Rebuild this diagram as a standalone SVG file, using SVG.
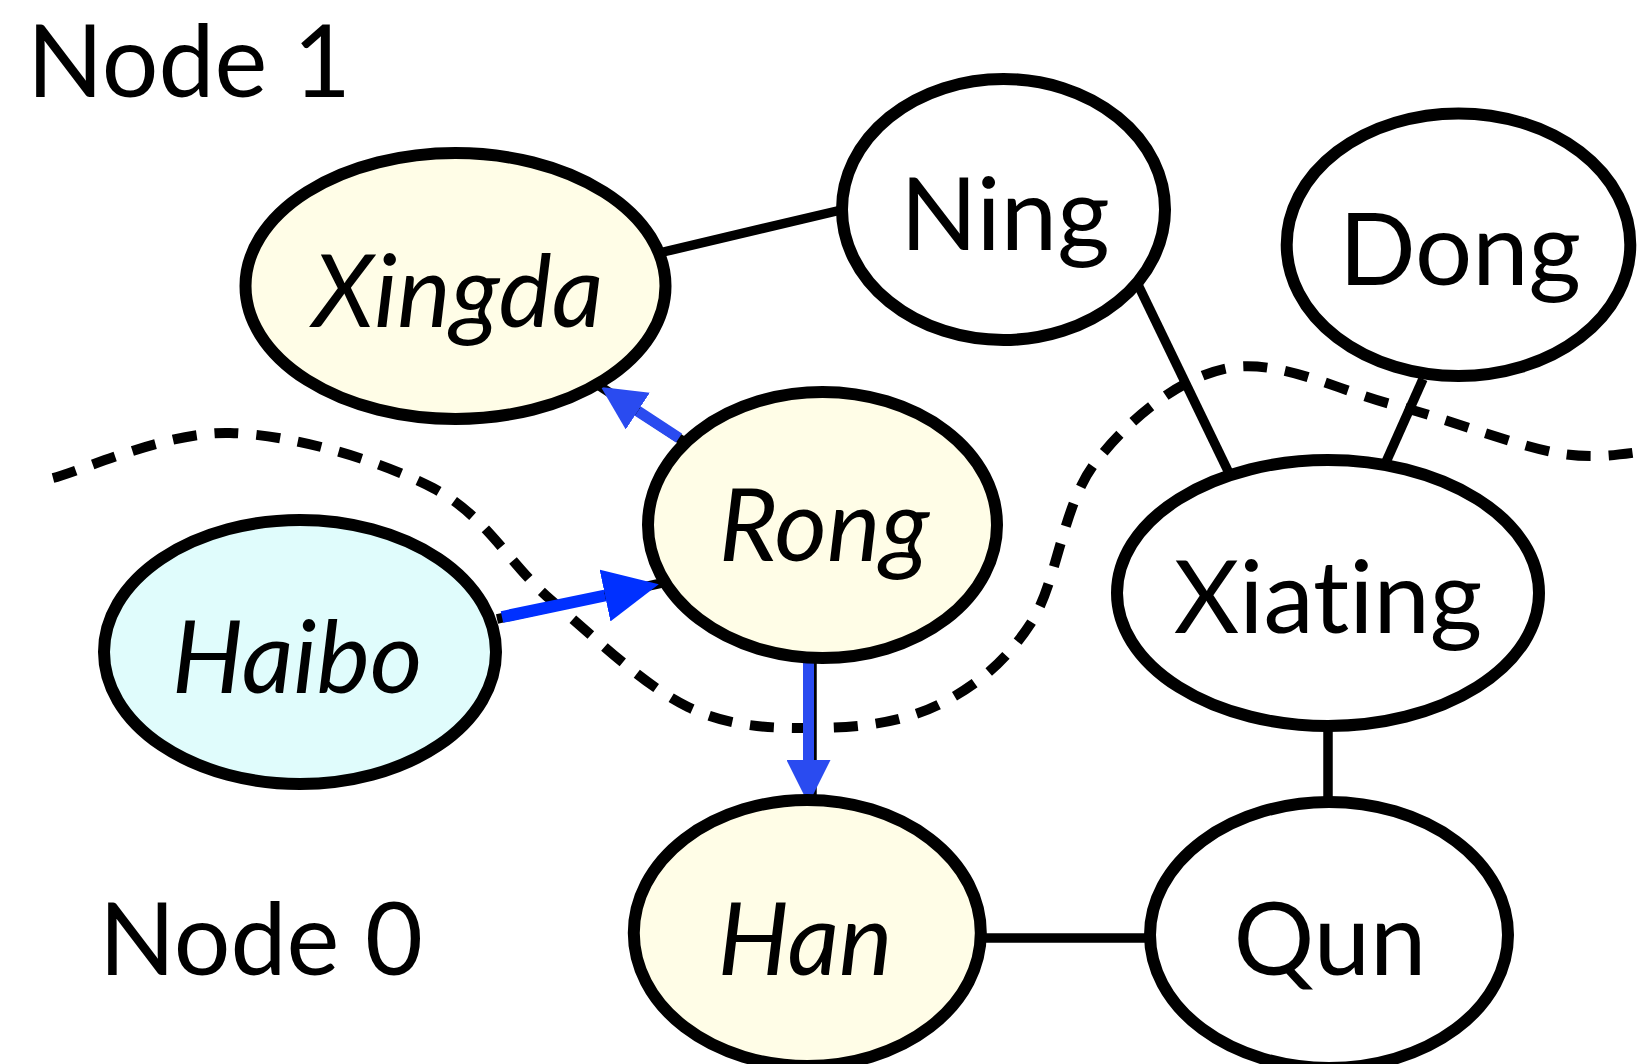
<svg xmlns="http://www.w3.org/2000/svg" width="1650" height="1064" viewBox="0 0 1650 1064">
<style>
.n ellipse{stroke:#000;stroke-width:12}
.t{font-family:Lato,"Open Sans","Liberation Sans",sans-serif;font-size:101px;fill:#000;text-anchor:middle;font-variant-ligatures:none;font-feature-settings:"liga" 0}
.i{font-style:italic}
.y{fill:#fffde7}
.c{fill:#e0fcfc}
.w{fill:#fff}
.e{stroke:#000;stroke-width:9.5;fill:none}
.b{stroke:#2a4bf0;stroke-width:11;fill:none}
.b2{stroke:#0030ff;stroke-width:12;fill:none}
.lbl{font-family:Lato,"Open Sans","Liberation Sans",sans-serif;font-size:100px;fill:#000}
</style>
<defs>
<marker id="ah" markerUnits="userSpaceOnUse" markerWidth="44" markerHeight="44" refX="0" refY="22" orient="auto" viewBox="0 0 44 44">
<path d="M0,0 L44,22 L0,44 z" fill="#2a4bf0"/>
</marker>
<marker id="ah2" markerUnits="userSpaceOnUse" markerWidth="55" markerHeight="53" refX="0" refY="26.5" orient="auto" viewBox="0 0 55 53">
<path d="M0,0 L55,26.5 L0,53 z" fill="#0030ff"/>
</marker>
</defs>
<rect width="1650" height="1064" fill="#fff"/>
<text class="lbl" x="27" y="97">Node 1</text>
<text class="lbl" x="99" y="975">Node 0</text>
<g id="partition">
<path d="M53,478 C82.5,470.5 166.7,431.3 230,433 C293.3,434.7 379.5,460.2 433,488 C486.5,515.8 508.5,563.5 551,600 C593.5,636.5 643.7,685.7 688,707 C732.3,728.3 775.3,728.3 817,728 C858.7,727.7 902.3,722.5 938,705 C973.7,687.5 1004.8,663.3 1031,623 C1057.2,582.7 1062.2,505.5 1095,463 C1127.8,420.5 1178.2,377.7 1228,368 C1278.8,358.3 1339.2,390.8 1394,405 C1448.8,419.2 1514.3,445.3 1557,453 C1599.7,460.7 1634.5,451.3 1650,451" fill="none" stroke="#000" stroke-width="10" stroke-dasharray="24 18"/>
</g>
<g id="connectors">
<line class="e" x1="661" y1="252.5" x2="839" y2="210.5"/>
<line class="e" x1="1138.6" y1="286" x2="1229" y2="473"/>
<line class="e" x1="1423" y1="379" x2="1386" y2="462"/>
<line class="e" x1="1328" y1="729" x2="1328" y2="799"/>
<line class="e" x1="984" y1="938" x2="1147" y2="938"/>
<line class="e" x1="683" y1="441" x2="598" y2="385"/>
<line class="e" x1="497" y1="619" x2="662" y2="583"/>
<line class="e" x1="812" y1="660" x2="812" y2="797"/>
<line class="b" x1="679" y1="438" x2="637.8" y2="411.1" marker-end="url(#ah)"/>
<line class="b2" x1="502" y1="617" x2="605" y2="595.5" marker-end="url(#ah2)"/>
<line class="b" x1="808.5" y1="661" x2="808.5" y2="760" marker-end="url(#ah)"/>
</g>
<g id="Xingda" class="n"><ellipse class="y" cx="455.5" cy="286" rx="210" ry="133"/><text class="t i" x="458" y="327">Xingda</text></g>
<g id="Ning" class="n"><ellipse class="w" cx="1003.5" cy="209.5" rx="161.5" ry="130.5"/><text class="t" x="1005" y="249.5">Ning</text></g>
<g id="Dong" class="n"><ellipse class="w" cx="1458.5" cy="244.7" rx="171.8" ry="131.3"/><text class="t" x="1460" y="285">Dong</text></g>
<g id="Rong" class="n"><ellipse class="y" cx="822.5" cy="525" rx="174.5" ry="133"/><text class="t i" x="824" y="561">Rong</text></g>
<g id="Haibo" class="n"><ellipse class="c" cx="300" cy="652" rx="196" ry="132"/><text class="t i" x="297" y="693">Haibo</text></g>
<g id="Xiating" class="n"><ellipse class="w" cx="1328" cy="593" rx="211" ry="133"/><text class="t" x="1328" y="633">Xiating</text></g>
<g id="Han" class="n"><ellipse class="y" cx="807.3" cy="933" rx="173.5" ry="133"/><text class="t i" x="805" y="975">Han</text></g>
<g id="Qun" class="n"><ellipse class="w" cx="1329" cy="935" rx="179" ry="133"/><text class="t" x="1330" y="975">Qun</text></g>
</svg>
